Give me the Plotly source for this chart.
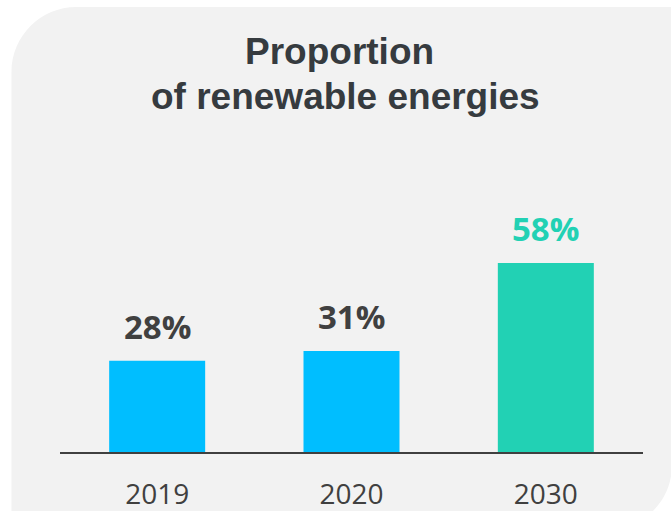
import plotly.graph_objects as go

# Data
years = ["2019", "2020", "2030"]
shares = [28, 31, 58]
bar_colors = ["#00BEFF", "#00BEFF", "#22D1B4"]
label_colors = ["#404040", "#404040", "#22D1B4"]
title_lines = ["Proportion", "of renewable energies"]

W, H = 671, 511
M_L, M_R, M_T, M_B = 60, 28, 126, 59
PW = W - M_L - M_R
PH = H - M_T - M_B


def to_paper(px, py):
    """Convert page pixel coordinates to paper coordinates."""
    return (px - M_L) / PW, (H - M_B - py) / PH


def pt(px, py):
    x, y = to_paper(px, py)
    return f"{x:.5f},{y:.5f}"


# Light panel with rounded top-left and bottom-right corners
L, T, R, B, r = 11.5, 7, 672, 530, 65
k = 0.5523
panel_path = (
    f"M {pt(L, T + r)} "
    f"C {pt(L, T + r - k * r)} {pt(L + r - k * r, T)} {pt(L + r, T)} "
    f"L {pt(R + 40, T)} "
    f"L {pt(R, T)} "
    f"L {pt(R, B - r)} "
    f"C {pt(R, B - r + k * r)} {pt(R - r + k * r, B)} {pt(R - r, B)} "
    f"L {pt(L, B)} Z"
)

fig = go.Figure(
    go.Bar(
        x=years,
        y=shares,
        marker=dict(color=bar_colors, line=dict(width=0)),
        hoverinfo="skip",
    )
)

# Value labels above the bars (category index positions on the x axis)
annotations = []
for i, (v, c) in enumerate(zip(shares, label_colors)):
    annotations.append(
        dict(
            x=i, y=v, xref="x", yref="y",
            text=f"{v}%", showarrow=False,
            yanchor="bottom", yshift=10,
            font=dict(family="Open Sans", size=33, color=c, weight="bold"),
        )
    )

title_pos = [(339.5, 51), (345, 96)]
for txt, (cx, cy) in zip(title_lines, title_pos):
    ax, ay = to_paper(cx, cy)
    annotations.append(
        dict(
            x=ax, y=ay, xref="paper", yref="paper",
            text=f"<b>{txt}</b>", showarrow=False,
            xanchor="center", yanchor="middle",
            font=dict(family="Liberation Sans", size=37, color="#363B3F"),
        )
    )

fig.update_layout(
    width=W, height=H,
    margin=dict(l=M_L, r=M_R, t=M_T, b=M_B, pad=0, autoexpand=False),
    paper_bgcolor="white",
    plot_bgcolor="rgba(0,0,0,0)",
    showlegend=False,
    bargap=0.506,
    annotations=annotations,
    shapes=[
        dict(
            type="path", path=panel_path, xref="paper", yref="paper",
            fillcolor="#F2F2F2", line=dict(width=0), layer="below",
        )
    ],
    xaxis=dict(
        type="category", automargin=False,
        range=[-0.5, len(years) - 0.5],
        showgrid=False, zeroline=False,
        showline=True, linecolor="#404040", linewidth=2,
        ticks="outside", ticklen=16, tickcolor="rgba(0,0,0,0)",
        tickfont=dict(family="Open Sans", size=28, color="#404040"),
    ),
    yaxis=dict(
        range=[0, 100], visible=False, showgrid=False, zeroline=False,
        automargin=False,
    ),
)

fig.write_html("out.html")
